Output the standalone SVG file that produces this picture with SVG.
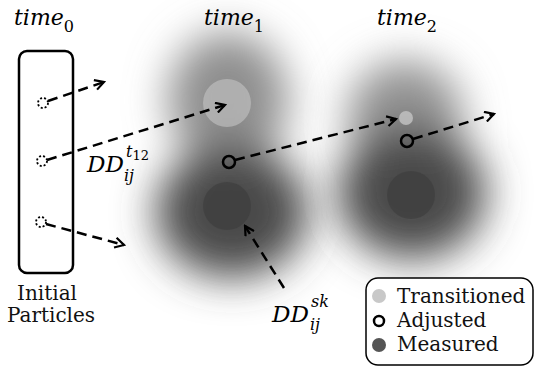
<svg xmlns="http://www.w3.org/2000/svg" width="536" height="368" viewBox="0 0 536 368">
<defs>
<filter id="blur" x="-50%" y="-50%" width="200%" height="200%"><feGaussianBlur stdDeviation="21"/></filter>
<marker id="ah" viewBox="0 0 12 12" refX="10" refY="6" markerWidth="12" markerHeight="12" markerUnits="userSpaceOnUse" orient="auto"><path d="M1,1 L10,6 L1,11" fill="none" stroke="#000" stroke-width="2.2"/></marker>
</defs>
<style>
.math{font-family:"DejaVu Serif","Liberation Serif",serif;font-style:italic;fill:#000}
.lbl{font-family:"DejaVu Serif","Liberation Serif",serif;fill:#111}
.conn{fill:none;stroke:#000;stroke-width:2.5;stroke-dasharray:10 6;marker-end:url(#ah)}
.part{fill:none;stroke:#000;stroke-width:1.8;stroke-dasharray:2 2}
.adj{fill:none;stroke:#000;stroke-width:2.5}
</style>
<rect width="536" height="368" fill="#fff"/>
<g id="blob1" filter="url(#blur)">
<ellipse cx="228" cy="100" rx="60" ry="68" fill="#8e8e8e"/>
<ellipse cx="232" cy="212" rx="76" ry="66" fill="#4a4a4a"/>
</g>
<g id="blob2" filter="url(#blur)">
<ellipse cx="405" cy="118" rx="58" ry="58" fill="#929292"/>
<ellipse cx="412" cy="193" rx="74" ry="66" fill="#4a4a4a"/>
</g>
<g id="blob1-marks">
<circle cx="227" cy="103" r="24" fill="#c4c4c4" opacity="0.6"/>
<circle cx="227" cy="206" r="24" fill="#3a3a3a" opacity="0.55"/>
</g>
<g id="blob2-marks">
<circle cx="406" cy="118" r="7" fill="#c4c4c4" opacity="0.8"/>
<circle cx="411" cy="195" r="24" fill="#3a3a3a" opacity="0.55"/>
</g>
<g id="titles">
<text class="math" x="14" y="25" font-size="22">time<tspan font-style="normal" font-size="16" dy="7">0</tspan></text>
<text class="math" x="204" y="25" font-size="22">time<tspan font-style="normal" font-size="16" dy="7">1</tspan></text>
<text class="math" x="377" y="25" font-size="22">time<tspan font-style="normal" font-size="16" dy="7">2</tspan></text>
</g>
<g id="initial-particles">
<rect x="19" y="51" width="54" height="222" rx="8" fill="none" stroke="#000" stroke-width="2.5"/>
<circle class="part" cx="43" cy="103" r="5"/>
<circle class="part" cx="42" cy="161" r="5"/>
<circle class="part" cx="41" cy="222" r="5"/>
<text class="lbl" x="47" y="300" font-size="20" text-anchor="middle">Initial</text>
<text class="lbl" x="51" y="322" font-size="20" text-anchor="middle">Particles</text>
</g>
<g id="adjusted1"><circle class="adj" cx="229" cy="162" r="6"/></g>
<g id="adjusted2"><circle class="adj" cx="407" cy="141" r="6"/></g>
<g id="connectors">
<path class="conn" d="M48,101 L104,82"/>
<path class="conn" d="M47,160 L225,105"/>
<path class="conn" d="M46,224 L124,245"/>
<path class="conn" d="M235,160 L396,119"/>
<path class="conn" d="M413,139 L494,114"/>
<path class="conn" d="M284,288 L245,226"/>
</g>
<g id="label-t12">
<text class="math" x="87" y="172" font-size="23">DD</text>
<text class="math" x="126" y="157" font-size="16">t<tspan font-style="normal" font-size="13" dy="3">12</tspan></text>
<text class="math" x="124" y="181" font-size="16">ij</text>
</g>
<g id="label-sk">
<text class="math" x="272" y="322" font-size="23">DD</text>
<text class="math" x="311" y="307" font-size="16">sk</text>
<text class="math" x="310" y="330" font-size="16">ij</text>
</g>
<g id="legend">
<rect x="366" y="278" width="167" height="87" rx="12" fill="#fff" stroke="#000" stroke-width="1.5"/>
<circle cx="379" cy="296" r="7" fill="#c8c8c8"/>
<text class="lbl" x="397" y="303" font-size="20">Transitioned</text>
<circle cx="379" cy="321" r="5" fill="none" stroke="#000" stroke-width="2.5"/>
<text class="lbl" x="397" y="327" font-size="20">Adjusted</text>
<circle cx="379" cy="345" r="7" fill="#555"/>
<text class="lbl" x="397" y="351" font-size="20">Measured</text>
</g>
</svg>
